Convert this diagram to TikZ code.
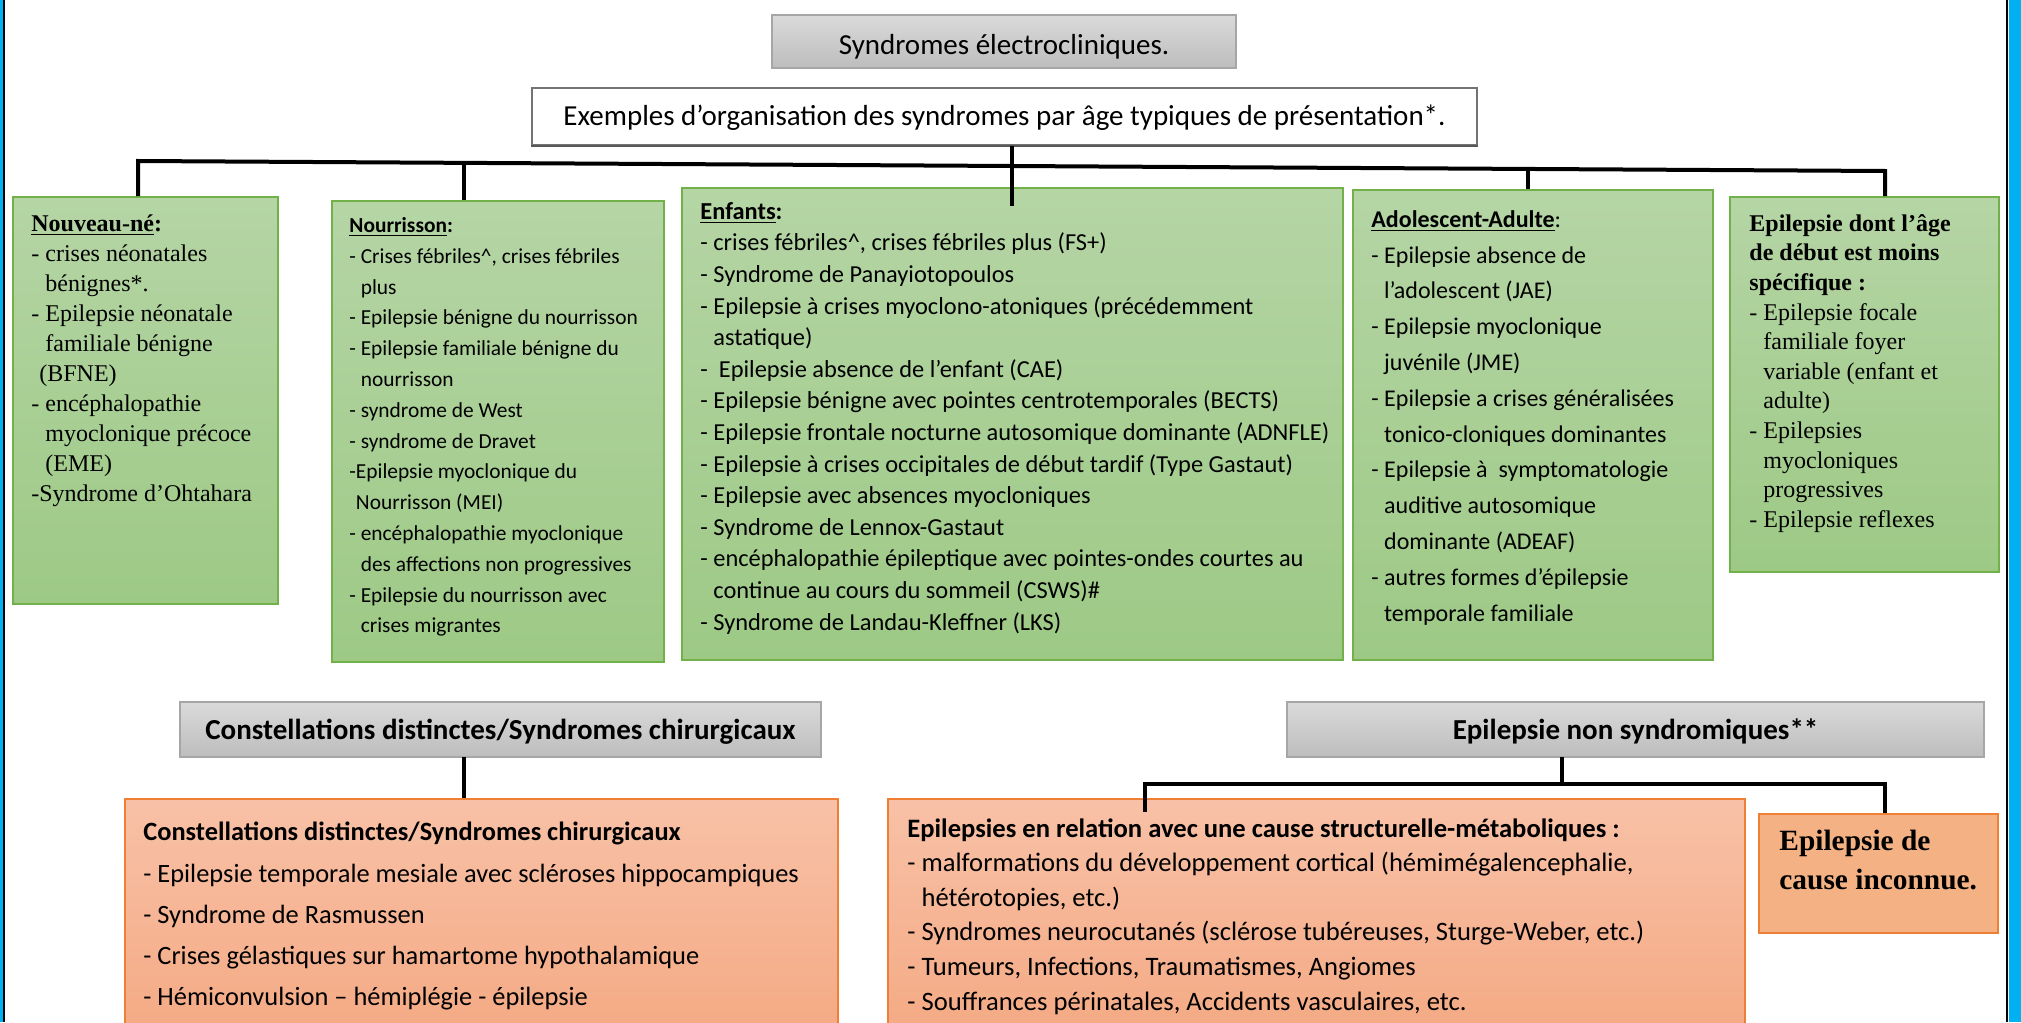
\documentclass[tikz,border=0pt]{standalone}
\usepackage{fontspec}
\setmainfont{Carlito}
\newfontfamily\timesfont{Liberation Serif}
\definecolor{greentop}{HTML}{B5D5A5}
\definecolor{greenbot}{HTML}{9DC985}
\definecolor{greenline}{HTML}{72B04A}
\definecolor{orangetop}{HTML}{F8C1A7}
\definecolor{orangebot}{HTML}{F4A983}
\definecolor{orangeline}{HTML}{F07F36}
\definecolor{causefill}{HTML}{F4B183}
\definecolor{graytop}{HTML}{DADADA}
\definecolor{graybot}{HTML}{BDBDBD}
\definecolor{grayline}{HTML}{A6A6A6}
\definecolor{sideblue}{HTML}{00B0F0}
\newcommand{\lowered}[2]{\raisebox{-#1}[\height][\depth]{#2}}
\begin{document}
\begin{tikzpicture}[x=0.5pt,y=-0.5pt,
  greenbox/.style={draw=greenline,line width=0.9pt,top color=greentop,bottom color=greenbot,anchor=north west,inner sep=0pt},
  orangebox/.style={draw=orangeline,line width=0.9pt,top color=orangetop,bottom color=orangebot,anchor=north west,inner sep=0pt},
  graybox/.style={draw=grayline,line width=0.9pt,top color=graytop,bottom color=graybot,inner sep=0pt},
  boxtext/.style={anchor=north west,align=left,inner sep=0pt},
  link/.style={line width=2pt}]
\useasboundingbox (0,0) rectangle (2021,1022);
\clip (0,0) rectangle (2021,1022);
% side bars
\fill[sideblue] (0,0) rectangle (3,1022);
\draw[line width=1pt] (4,0) -- (4,1022);
\fill[sideblue] (2009,0) rectangle (2021,1022);
\draw[line width=1pt] (2007,0) -- (2007,1022);
% top headers
\node[graybox,minimum width=232pt,minimum height=26.5pt,font=\fontsize{14.5}{17}\selectfont] (titre) at (1004,41.5) {\lowered{2.5pt}{Syndromes électrocliniques.}};
\node[draw=black!55,line width=1pt,fill=white,minimum width=472.5pt,minimum height=28.5pt,font=\fontsize{14.5}{17}\selectfont] (exemples) at (1004.5,116.5) {\lowered{0.8pt}{Exemples d’organisation des syndromes par âge typiques de présentation*.}};
\draw[line width=1.4pt,black!65] (exemples.south west) -- (exemples.south east);
% age boxes
\node[greenbox,minimum width=132.5pt,minimum height=203.5pt] (nouveau) at (12,196) {};
\node[greenbox,minimum width=166pt,minimum height=230.5pt] (nourrisson) at (331,200) {};
\node[greenbox,minimum width=330.5pt,minimum height=236pt] (enfants) at (681,187) {};
\node[greenbox,minimum width=180pt,minimum height=235pt] (adulte) at (1352,189) {};
\node[greenbox,minimum width=134.5pt,minimum height=187.5pt] (autres) at (1729,196) {};
\node[boxtext,font=\timesfont\fontsize{12}{15}\selectfont] (nouveautxt) at ([shift={(19,18)}]nouveau.north west) {%
\textbf{\underline{Nouveau-né}:}\\
- crises néonatales\\
\phantom{- }bénignes*.\\
- Epilepsie néonatale\\
\phantom{- }familiale bénigne\\
\phantom{-}(BFNE)\\
- encéphalopathie\\
\phantom{- }myoclonique précoce\\
\phantom{- }(EME)\\
-Syndrome d’Ohtahara};
\node[boxtext,font=\fontsize{10.7}{15.4}\selectfont] (nourrissontxt) at ([shift={(18,17)}]nourrisson.north west) {%
\textbf{\underline{Nourrisson}:}\\
- Crises fébriles\textasciicircum, crises fébriles\\
\phantom{- }plus\\
- Epilepsie bénigne du nourrisson\\
- Epilepsie familiale bénigne du\\
\phantom{- }nourrisson\\
- syndrome de West\\
- syndrome de Dravet\\
-Epilepsie myoclonique du\\
\phantom{-}Nourrisson (MEI)\\
- encéphalopathie myoclonique\\
\phantom{- }des affections non progressives\\
- Epilepsie du nourrisson avec\\
\phantom{- }crises migrantes};
\node[boxtext,font=\fontsize{12.2}{15.8}\selectfont] (enfantstxt) at ([shift={(19,15)}]enfants.north west) {%
\textbf{\underline{Enfants}:}\\
- crises fébriles\textasciicircum, crises fébriles plus (FS+)\\
- Syndrome de Panayiotopoulos\\
- Epilepsie à crises myoclono-atoniques (précédemment\\
\phantom{- }astatique)\\
-\ \ Epilepsie absence de l’enfant (CAE)\\
- Epilepsie bénigne avec pointes centrotemporales (BECTS)\\
- Epilepsie frontale nocturne autosomique dominante (ADNFLE)\\
- Epilepsie à crises occipitales de début tardif (Type Gastaut)\\
- Epilepsie avec absences myocloniques\\
- Syndrome de Lennox-Gastaut\\
- encéphalopathie épileptique avec pointes-ondes courtes au\\
\phantom{- }continue au cours du sommeil (CSWS)\#\\
- Syndrome de Landau-Kleffner (LKS)};
\node[boxtext,font=\fontsize{12}{17.9}\selectfont] (adultetxt) at ([shift={(19,21)}]adulte.north west) {%
\textbf{\underline{Adolescent-Adulte}}:\\
- Epilepsie absence de\\
\phantom{- }l’adolescent (JAE)\\
- Epilepsie myoclonique\\
\phantom{- }juvénile (JME)\\
- Epilepsie a crises généralisées\\
\phantom{- }tonico-cloniques dominantes\\
- Epilepsie à\ \ symptomatologie\\
\phantom{- }auditive autosomique\\
\phantom{- }dominante (ADEAF)\\
- autres formes d’épilepsie\\
\phantom{- }temporale familiale};
\node[boxtext,font=\timesfont\fontsize{12}{14.8}\selectfont] (autrestxt) at ([shift={(20,18)}]autres.north west) {%
\textbf{Epilepsie dont l’âge}\\
\textbf{de début est moins}\\
\textbf{spécifique :}\\
- Epilepsie focale\\
\phantom{- }familiale foyer\\
\phantom{- }variable (enfant et\\
\phantom{- }adulte)\\
- Epilepsies\\
\phantom{- }myocloniques\\
\phantom{- }progressives\\
- Epilepsie reflexes};
% links from the age line
\coordinate (busL) at (138,161);
\coordinate (busR) at (1885,171);
\coordinate (dropnr) at (464,163);
\coordinate (dropad) at (1528,170);
\coordinate (dropenf) at (1012,206);
\draw[link] (busL |- nouveau.north) -- (busL) -- (busR) -- (busR |- autres.north);
\draw[link] (dropnr) -- (dropnr |- nourrisson.north);
\draw[link] (dropad) -- (dropad |- adulte.north);
\draw[link] (exemples.south -| dropenf) -- (dropenf);
% lower part
\node[graybox,minimum width=320.5pt,minimum height=27.5pt,font=\bfseries\fontsize{14.5}{17}\selectfont] (chirtitre) at (500.5,729.5) {\lowered{1pt}{Constellations distinctes/Syndromes chirurgicaux}};
\node[graybox,minimum width=348.5pt,minimum height=27.5pt,font=\bfseries\fontsize{14.5}{17}\selectfont] (nonsyndtitre) at (1635.5,729.5) {\lowered{1pt}{Epilepsie non syndromiques**}};
\node[orangebox,minimum width=356.5pt,minimum height=121pt] (chir) at (124,798) {};
\node[orangebox,minimum width=428.5pt,minimum height=121pt] (struct) at (887,798) {};
\node[draw=orangeline,line width=0.9pt,fill=causefill,anchor=north west,inner sep=0pt,minimum width=119.5pt,minimum height=59.5pt] (inconnue) at (1758,813) {};
\node[boxtext,font=\fontsize{13.2}{20.6}\selectfont] (chirtxt) at ([shift={(19,24)}]chir.north west) {%
\textbf{Constellations distinctes/Syndromes chirurgicaux}\\
- Epilepsie temporale mesiale avec scléroses hippocampiques\\
- Syndrome de Rasmussen\\
- Crises gélastiques sur hamartome hypothalamique\\
- Hémiconvulsion – hémiplégie - épilepsie};
\node[boxtext,font=\fontsize{13.3}{17.3}\selectfont] (structtxt) at ([shift={(20,20)}]struct.north west) {%
\textbf{Epilepsies en relation avec une cause structurelle-métaboliques :}\\
- malformations du développement cortical (hémimégalencephalie,\\
\phantom{- }hétérotopies, etc.)\\
- Syndromes neurocutanés (sclérose tubéreuses, Sturge-Weber, etc.)\\
- Tumeurs, Infections, Traumatismes, Angiomes\\
- Souffrances périnatales, Accidents vasculaires, etc.};
\node[boxtext,font=\timesfont\bfseries\fontsize{14.7}{19.3}\selectfont] (inconnuetxt) at ([shift={(21,17)}]inconnue.north west) {Epilepsie de\\cause inconnue.};
% lower links
\coordinate (chirstem) at (464,757);
\coordinate (nsstem) at (1562,757);
\coordinate (nsbusL) at (1145,784);
\coordinate (nsbusR) at (1885,784);
\coordinate (structdrop) at (1145,812);
\draw[link] (chirstem) -- (chirstem |- chir.north);
\draw[link] (nsstem) -- (nsstem |- nsbusL);
\draw[link] (structdrop) -- (nsbusL) -- (nsbusR) -- (nsbusR |- inconnue.north);
\end{tikzpicture}
\end{document}
